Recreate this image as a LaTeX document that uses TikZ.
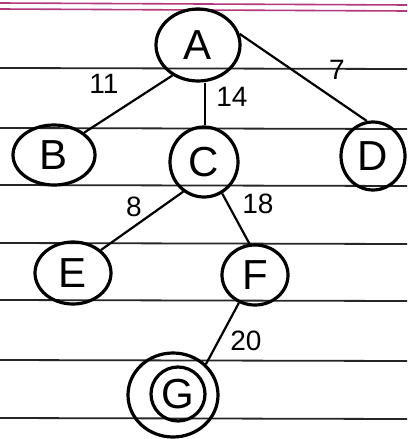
\documentclass[tikz,border=0pt]{standalone}
\usepackage{fontspec}
\setmainfont{Liberation Sans}
\usetikzlibrary{shapes.geometric}
\begin{document}
\begin{tikzpicture}[x=1pt,y=-1pt,
  vert/.style={draw=black,ellipse,line width=3.2pt,inner sep=0pt,font=\fontsize{42}{42}\selectfont},
  edge/.style={line width=2.2pt,black},
  wlab/.style={font=\fontsize{28}{28}\selectfont,inner sep=0pt},
  ruled/.style={line width=1.8pt,black!85}]
\useasboundingbox (0,0) rectangle (407,439);
\fill[white] (0,0) rectangle (407,439);
% magenta margin
\draw[line width=1.6pt,magenta!70!black] (0,3) -- (407,5);
\draw[line width=1.6pt,magenta!70!black] (0,9) -- (407,11);
% ruled lines
\foreach \yy in {68,128,185,243,300,360,418}
  \draw[ruled] (0,\yy) -- (407,\yy+1);
% nodes
\node[vert,minimum width=84pt,minimum height=72pt] (A) at (198,45) {A};
\node[vert,minimum width=82pt,minimum height=60pt] (B) at (54,155) {B};
\node[vert,minimum width=68pt,minimum height=70pt] (C) at (204,162) {C};
\node[vert,minimum width=64pt,minimum height=68pt] (D) at (373,156) {D};
\node[vert,minimum width=76pt,minimum height=62pt] (E) at (73,273) {E};
\node[vert,minimum width=66pt,minimum height=60pt] (F) at (255,275) {F};
\node[vert,minimum width=90pt,minimum height=84pt] (G) at (173,395) {};
\node[vert,minimum width=54pt,minimum height=54pt] (Gi) at (178,394) {G};
% edges
\draw[edge] (A.230) -- (B.north east);
\draw[edge] (A.south) ++(7,0) coordinate (ac) -- (ac |- C.north);
\draw[edge] (A.15) -- (D.100);
\draw[edge] (C.235) -- (E.north east);
\draw[edge] (C.300) -- (F.100);
\draw[edge] (F.240) -- (G.north east);
% weights
\node[wlab] (w11) at (104,84) {11};
\node[wlab] (w14) at (232,97) {14};
\node[wlab] (w7) at (337,70) {7};
\node[wlab] (w8) at (134,207) {8};
\node[wlab] (w18) at (258,204) {18};
\node[wlab] (w20) at (246,341) {20};
\end{tikzpicture}
\end{document}
